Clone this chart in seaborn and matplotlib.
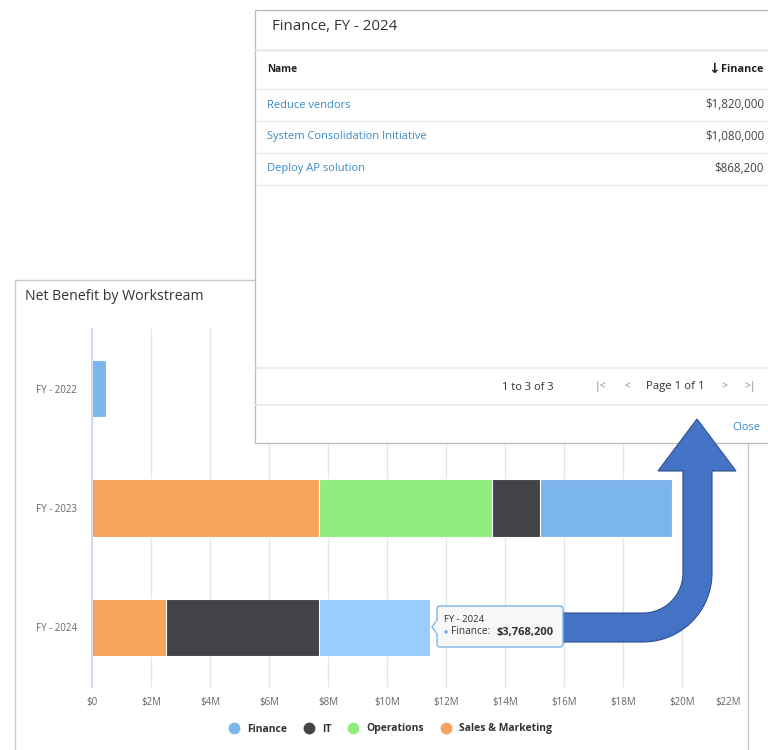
import numpy as np
import pandas as pd
import seaborn as sns
import matplotlib.pyplot as plt
from matplotlib.patches import Rectangle, FancyBboxPatch, Polygon
from matplotlib.lines import Line2D
from matplotlib.ticker import FuncFormatter

years = ["FY - 2022", "FY - 2023", "FY - 2024"]
workstreams = ["Finance", "IT", "Operations", "Sales & Marketing"]
finance = [470000, 4460000, 3768200]
it = [0, 1630000, 5180000]
operations = [0, 5890000, 0]
sales_marketing = [0, 7680000, 2500000]
colors = {"Finance": "#7cb5ec", "IT": "#434348",
          "Operations": "#90ed7d", "Sales & Marketing": "#f7a35c"}
hover_color = "#97cdff"

detail_names = ["Reduce vendors", "System Consolidation Initiative", "Deploy AP solution"]
detail_values = ["$1,820,000", "$1,080,000", "$868,200"]

sns.set_theme(style="white")
plt.rcParams["font.family"] = ["Open Sans", "DejaVu Sans"]

W, H = 768, 750


def box(x0, y0, x1, y1):
    return [x0 / W, 1 - y1 / H, (x1 - x0) / W, (y1 - y0) / H]


# long table + cumulative ends, stacking left to right: S&M, Operations, IT, Finance
stack_order = ["Sales & Marketing", "Operations", "IT", "Finance"]
series = {"Finance": finance, "IT": it, "Operations": operations,
          "Sales & Marketing": sales_marketing}
rows = []
for i, yr in enumerate(years):
    run = 0
    for ws in stack_order:
        v = series[ws][i]
        run += v
        rows.append({"year": yr, "workstream": ws, "value": v, "end": run})
df = pd.DataFrame(rows)

fig = plt.figure(figsize=(7.68, 7.5), dpi=100)
ax = fig.add_axes(box(92, 329, 741, 687))

# draw longest cumulative first so shorter segments sit on top
for ws in stack_order[::-1]:
    sub = df[(df.workstream == ws) & (df.value > 0)]
    n0 = len(ax.patches)
    sns.barplot(data=sub, x="end", y="year", order=years, orient="h",
                color=colors[ws], saturation=1, width=0.48,
                edgecolor="white", linewidth=0.8, ax=ax)
    if ws == "Finance":
        ax.patches[n0 + 2].set_facecolor(hover_color)

ax.set_xlim(0, 22e6)
ax.set_xticks(np.arange(0, 22e6 + 1, 2e6))
ax.xaxis.set_major_formatter(FuncFormatter(lambda v, p: "$0" if v == 0 else f"${v / 1e6:.0f}M"))
ax.set_xlabel("")
ax.set_ylabel("")
ax.grid(axis="x", color="#e6e6e6", linewidth=1)
ax.set_axisbelow(True)
for s in ["top", "right", "bottom"]:
    ax.spines[s].set_visible(False)
ax.spines["left"].set_color("#ccd6eb")
ax.tick_params(axis="x", length=0, pad=7, labelsize=7, labelcolor="#666666")
ax.tick_params(axis="y", length=0, pad=11, labelsize=7, labelcolor="#666666")
ax.get_xticklabels()[-1].set_ha("right")

handles = [Line2D([], [], marker="o", linestyle="", markersize=7.5,
                  markerfacecolor=colors[w], markeredgecolor=colors[w]) for w in workstreams]
leg = ax.legend(handles, workstreams, loc="center", bbox_to_anchor=(388 / W, 1 - 729 / H),
                bbox_transform=fig.transFigure, ncol=4, frameon=False, fontsize=7.5,
                handletextpad=0.3, columnspacing=1.05)
for t in leg.get_texts():
    t.set_color("#333333")
    t.set_fontweight("bold")

# overlay layer in pixel coordinates
ov = fig.add_axes([0, 0, 1, 1], zorder=10)
ov.set_xlim(0, W)
ov.set_ylim(H, 0)
ov.axis("off")
ov.patch.set_alpha(0)

# chart panel frame + title
ov.add_patch(Rectangle((15, 280), 733, 500, fill=False, edgecolor="#c8c8c8", lw=1, zorder=1))
ov.text(25, 297, "Net Benefit by Workstream", fontsize=10.2, color="#333333", va="center", zorder=1)

# drill-down popup
ov.add_patch(Rectangle((255, 10), 530, 433, facecolor="white", edgecolor="#bdbdbd", lw=1, zorder=6))
ov.text(272, 27, "Finance, FY - 2024", fontsize=10.8, color="#333333", va="center", zorder=7)
for yl, lw in [(50, 2), (89, 1), (121, 1), (153, 1), (185, 1), (368, 1.5), (405, 1.5)]:
    ov.plot([256, 768], [yl, yl], color="#ebebeb", lw=lw, zorder=7)
ov.text(267, 70, "Name", fontsize=7.3, fontweight="bold", color="#222222", va="center", zorder=7)
ov.text(714, 69, "\u2193", fontsize=10, fontweight="bold", color="#222222",
        va="center", ha="center", zorder=7)
ov.text(764, 70, "Finance", fontsize=7.8, fontweight="bold", color="#222222",
        va="center", ha="right", zorder=7)
for i, (nm, val) in enumerate(zip(detail_names, detail_values)):
    yy = 105 + 32 * i
    ov.text(267, yy, nm, fontsize=8, color="#3a8ac2", va="center", zorder=7)
    ov.text(764, yy, val, fontsize=8.3, color="#444444", va="center", ha="right", zorder=7)

ov.text(528, 387, "1 to 3 of 3", fontsize=8, color="#333333", va="center", ha="center", zorder=7)
ov.text(600, 387, "|<", fontsize=7.5, color="#888888", va="center", ha="center", zorder=7)
ov.text(627, 387, "<", fontsize=7.5, color="#888888", va="center", ha="center", zorder=7)
ov.text(675, 387, "Page 1 of 1", fontsize=8.2, color="#333333", va="center", ha="center", zorder=7)
ov.text(724, 387, ">", fontsize=7.5, color="#888888", va="center", ha="center", zorder=7)
ov.text(750, 387, ">|", fontsize=7.5, color="#888888", va="center", ha="center", zorder=7)
ov.text(760, 427, "Close", fontsize=8, color="#3a8ac2", va="center", ha="right", zorder=7)

# curved callout arrow (over the popup, under the tooltip)
cx, cy, r_in, r_out = 643, 573, 40, 69
t = np.linspace(0, np.pi / 2, 30)
inner = np.column_stack([cx + r_in * np.sin(t), cy + r_in * np.cos(t)])
outer = np.column_stack([cx + r_out * np.sin(t[::-1]), cy + r_out * np.cos(t[::-1])])
pts = np.vstack([[[555, 613]], inner,
                 [[683, 471], [658, 471], [697, 419], [736, 471], [712, 471]],
                 outer, [[555, 642]]])
ov.add_patch(Polygon(pts, closed=True, facecolor="#4472c4", edgecolor="#2f528f", lw=0.8, zorder=8))

# tooltip box
ov.add_patch(Polygon([[437, 620], [432, 627], [437, 634]], closed=True,
                     facecolor="#f7f7f7", edgecolor="#7cb5ec", lw=1, zorder=9))
ov.add_patch(FancyBboxPatch((437, 606), 126, 41, boxstyle="round,pad=0,rounding_size=3",
                            facecolor="#f7f7f7", edgecolor="#7cb5ec", lw=1, zorder=9))
ov.add_patch(Rectangle((436.3, 621), 2, 12, facecolor="#f7f7f7", edgecolor="none", zorder=9))
ov.text(444, 619, "FY - 2024", fontsize=6.8, color="#333333", va="center", zorder=10)
ov.text(444, 631, "\u25cf", fontsize=3.5, color="#7cb5ec", va="center", zorder=10)
ov.text(451, 632, "Finance:", fontsize=7.3, color="#333333", va="center", zorder=10)
ov.text(497, 632, "$3,768,200", fontsize=8, color="#333333", fontweight="bold", va="center", zorder=10)

fig.savefig("out.png", dpi=100)
